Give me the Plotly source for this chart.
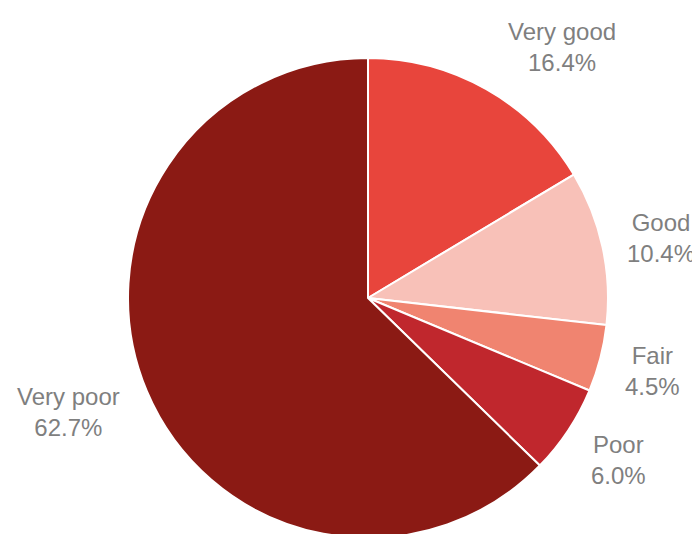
import plotly.graph_objects as go

categories = ["Very good", "Good", "Fair", "Poor", "Very poor"]
values = [16.4, 10.4, 4.5, 6.0, 62.7]
colors = ["#E8453C", "#F8C1B8", "#F08470", "#C0272D", "#8B1A14"]

# label anchor positions (screen px), layout only
label_pos = {
    "Very good": (562, 47),
    "Good": (661, 238),
    "Fair": (652, 371),
    "Poor": (618, 460),
    "Very poor": (68, 412),
}

W, H = 700, 534
OFF = 8  # default page body margin
cx, cy, R = 368 - OFF, 298 - OFF, 240

fig = go.Figure(go.Pie(
    labels=categories,
    values=values,
    sort=False,
    direction="clockwise",
    rotation=0,
    textinfo="none",
    hoverinfo="label+percent",
    marker=dict(colors=colors, line=dict(color="white", width=2)),
    domain=dict(x=[(cx - R) / W, (cx + R) / W],
                y=[(H - (cy + R)) / H, (H - (cy - R)) / H]),
    showlegend=False,
))

for c, v in zip(categories, values):
    x, y = label_pos[c]
    fig.add_annotation(
        x=(x - OFF) / W, y=1 - (y - OFF) / H, xref="paper", yref="paper",
        text=f"{c}<br>{v:.1f}%", showarrow=False,
        font=dict(family="Liberation Sans, Arial, sans-serif", size=24, color="#7F7F7F"),
        align="center", xanchor="center", yanchor="middle",
    )

fig.update_layout(
    width=W, height=H,
    margin=dict(l=0, r=0, t=0, b=0),
    paper_bgcolor="white",
    plot_bgcolor="white",
)

fig.write_html("out.html")
